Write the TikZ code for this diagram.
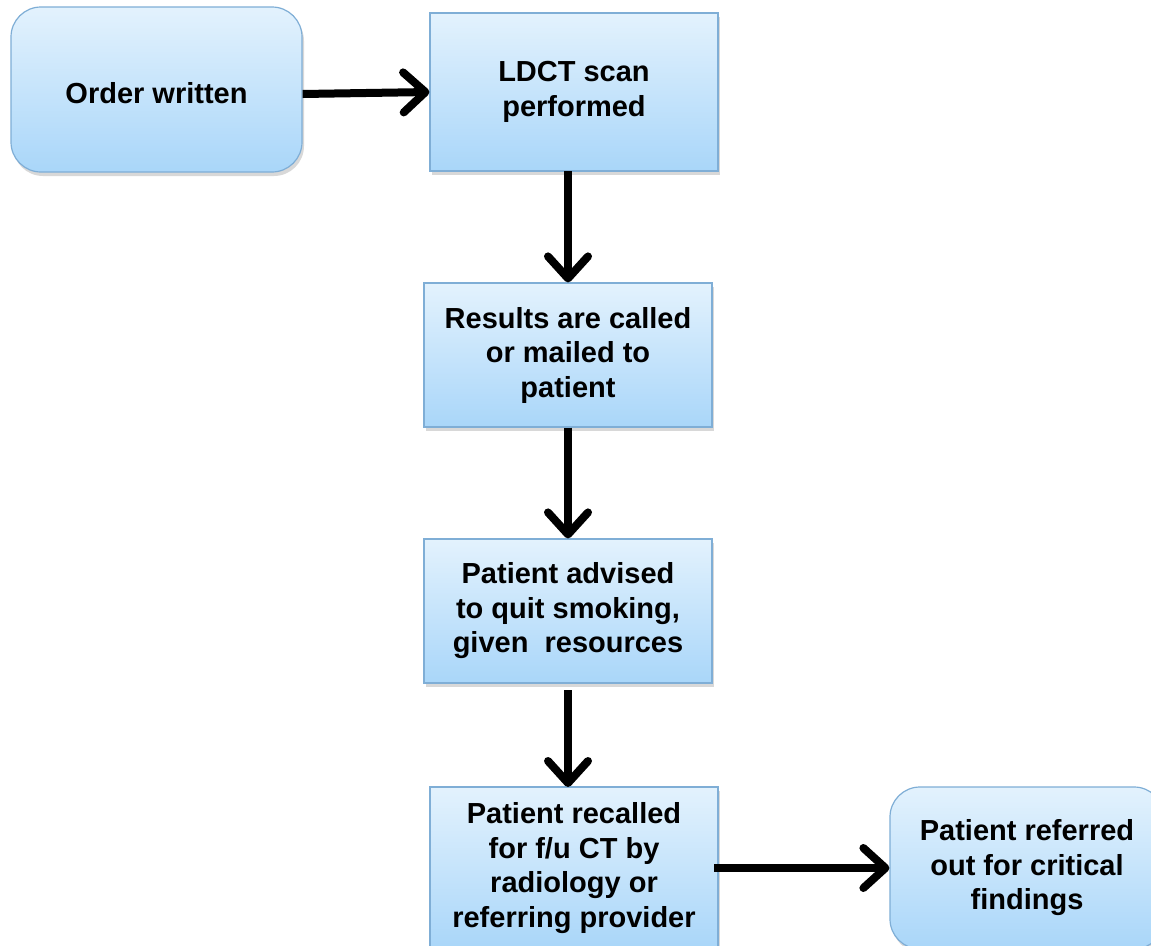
\documentclass[tikz,border=0pt]{standalone}
\usepackage{fontspec}
\setmainfont{Liberation Sans}
\usetikzlibrary{arrows.meta,shadows}
\definecolor{boxtop}{HTML}{E3F2FD}
\definecolor{boxbot}{HTML}{A9D6F9}
\definecolor{boxline}{HTML}{7FAED6}
\tikzset{
  stepbox/.style={draw=boxline, line width=1.2pt, top color=boxtop, bottom color=boxbot,
    drop shadow={opacity=0.3, shadow xshift=2pt, shadow yshift=-4pt},
    align=center, font=\fontsize{29}{34.5}\selectfont\bfseries, inner sep=0pt},
  roundbox/.style={stepbox, rounded corners=30pt},
  lowered/.style={execute at begin node={\rule{0pt}{28pt}}},
  flow/.style={line width=8pt, -{Straight Barb[length=22pt, width=40pt, round]}}
}
\begin{document}
\begin{tikzpicture}[x=1pt,y=-1pt]
\useasboundingbox (0,0) rectangle (1151,945);
\clip (0,0) rectangle (1151,945);
\fill[white] (0,0) rectangle (1151,945);

\node[roundbox, lowered, minimum width=291pt, minimum height=165pt] (order) at (156.5,89.5) {Order written};
\node[stepbox, lowered, minimum width=288pt, minimum height=158pt] (ldct) at (574,92) {LDCT scan\\performed};
\node[stepbox, lowered, minimum width=288pt, minimum height=144pt] (results) at (568,355) {Results are called\\or mailed to\\patient};
\node[stepbox, lowered, minimum width=288pt, minimum height=144pt] (advised) at (568,611) {Patient advised\\to quit smoking,\\given\ \ resources};
\node[stepbox, lowered, minimum width=288pt, minimum height=162pt] (recalled) at (574,868) {Patient recalled\\for f/u CT by\\radiology or\\referring provider};
\node[roundbox, lowered, minimum width=274pt, minimum height=162pt] (referred) at (1027,868) {Patient referred\\out for critical\\findings};

\draw[flow] (order.east |- 0,94) -- (ldct.west |- 0,92);
\draw[flow] (568,171) -- (results.north);
\draw[flow] (results.south) -- (advised.north);
\draw[flow] (568,690) -- (568,787);
\draw[flow] (714,868) -- (referred.west);
\end{tikzpicture}
\end{document}
